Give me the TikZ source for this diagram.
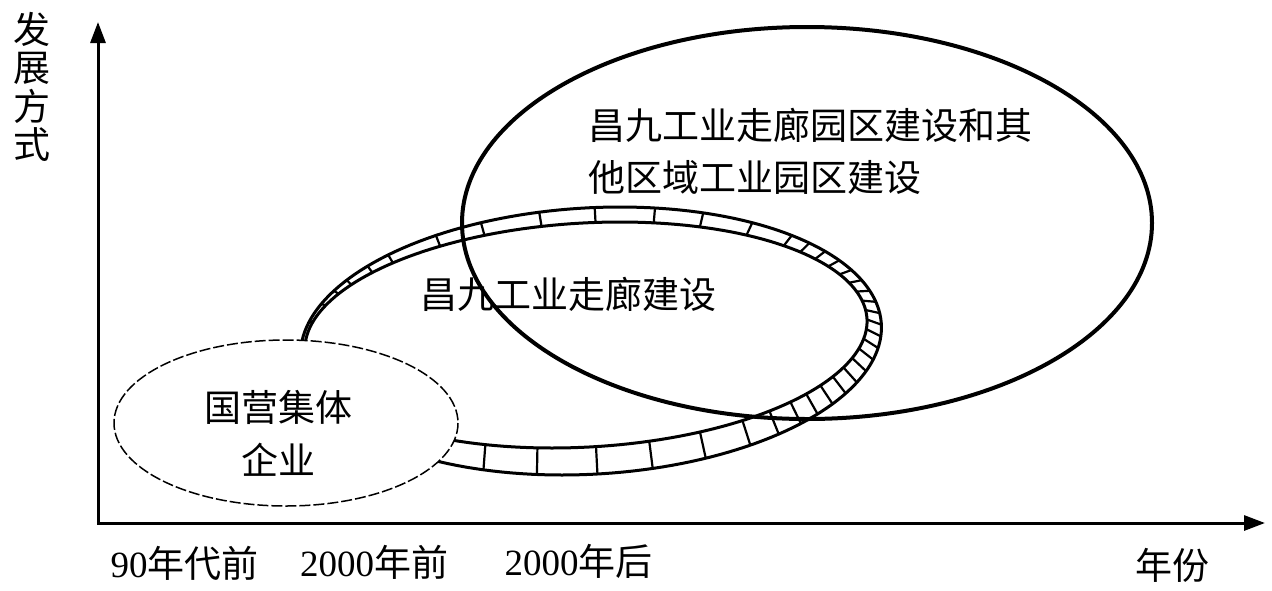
\documentclass[tikz,border=0pt]{standalone}
\usepackage{fontspec}
\setmainfont{Liberation Serif}
\newfontfamily\cjk{Noto Sans CJK SC}
\usetikzlibrary{arrows.meta}
\tikzset{
  axisline/.style={line width=3pt, line join=miter,
    {Triangle[length=21pt,width=15pt]}-{Triangle[length=21pt,width=15pt]}},
  ringline/.style={line width=3pt, line join=round},
  rung/.style={line width=2.2pt},
  bigoval/.style={line width=4pt},
  dashoval/.style={line width=1.5pt, dash pattern=on 11pt off 3pt, fill=white},
  lbl/.style={font=\fontsize{37}{52}\selectfont, inner sep=0pt},
}
\begin{document}
\begin{tikzpicture}[x=1pt,y=-1pt]
\useasboundingbox (0,0) rectangle (1272,590);

% axes
\coordinate (O) at (98,523);
\coordinate (Ytip) at (98,22);
\coordinate (Xtip) at (1265,523);
\draw[axisline] (Ytip) -- (O) -- (Xtip);

% hatched ring (2000 before)
\draw[ringline] plot[variable=\t, domain=0:360, samples=181]
  ({591+289*cos(\t)+29*sin(\t)},{341-134*sin(\t)}) -- cycle;
\draw[ringline] plot[variable=\t, domain=0:360, samples=181]
  ({586+279*cos(\t)+34*sin(\t)},{335-113*sin(\t)}) -- cycle;
\foreach \t in {172,164,158,153,146,140,128,118,106,95,83,73,62,52,47,42,37,32,27,22,17,12,7,2,-3,-8,-13,-18,-23,-28,-33,-38,-44,-51,-61,-72,-83,-95,-106,-117,-128}{
  \pgfmathsetmacro{\u}{\t+1-sin(\t)}
  \draw[rung] ({591+289*cos(\t)+29*sin(\t)},{341-134*sin(\t)})
           -- ({586+279*cos(\u)+34*sin(\u)},{335-113*sin(\u)});
}

% dashed ellipse (before the 90s)
\draw[dashoval] (286,423) ellipse [x radius=172, y radius=83];

% large ellipse (after 2000)
\draw[bigoval] (807,223) ellipse [x radius=345, y radius=196];

% texts
\node[lbl, font=\cjk\fontsize{37}{38.5}\selectfont, align=center] (ylab) at (32,87) {发\\展\\方\\式};
\node[lbl, font=\cjk\fontsize{37}{52}\selectfont] (ringlab) at (568,294) {昌九工业走廊建设};
\node[lbl, font=\cjk\fontsize{37}{52}\selectfont, align=left, anchor=west] (biglab) at (588,151) {昌九工业走廊园区建设和其\\他区域工业园区建设};
\node[lbl, font=\cjk\fontsize{37}{53}\selectfont, align=center] (dashlab) at (278,433) {国营集体\\企业};
\node[lbl] (x1) at (184.5,563) {90{\cjk 年代前}};
\node[lbl] (x2) at (374,562) {2000{\cjk 年前}};
\node[lbl] (x3) at (578.5,561) {2000{\cjk 年后}};
\node[lbl, font=\cjk\fontsize{37}{52}\selectfont] (x4) at (1172,565) {年份};
\end{tikzpicture}
\end{document}
